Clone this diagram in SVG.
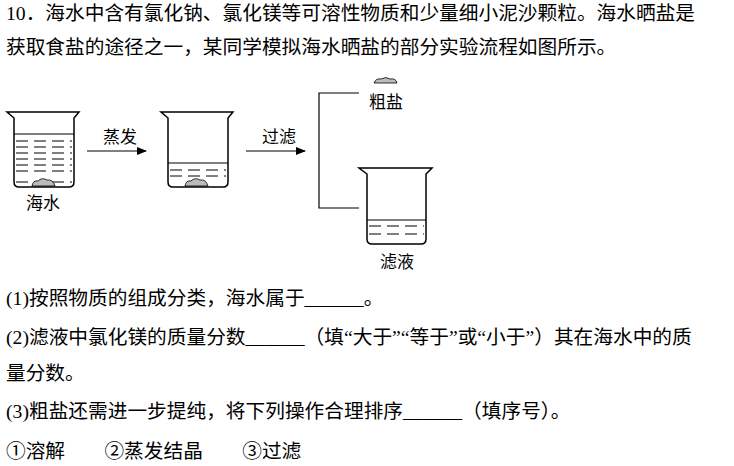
<svg xmlns="http://www.w3.org/2000/svg" width="734" height="466" viewBox="0 0 734 466">
<style>
text{font-family:"Liberation Serif","Noto Sans CJK SC",serif;font-size:19.7px;fill:#000}
.l{font-size:17px}
.b{fill:none;stroke:#000;stroke-width:1.5}
.d{stroke:#000;stroke-width:1;stroke-dasharray:12,6}
.s{fill:#bbb;stroke:#000;stroke-width:0.8}
</style>
<defs><marker id="a" markerWidth="10" markerHeight="8" refX="9" refY="4" orient="auto" markerUnits="userSpaceOnUse"><path d="M0,0L10,4L0,8z"/></marker></defs>
<rect width="734" height="466" fill="#fff"/>
<text x="6" y="20">10．海水中含有氯化钠、氯化镁等可溶性物质和少量细小泥沙颗粒。海水晒盐是</text>
<text x="6" y="54">获取食盐的途径之一，某同学模拟海水晒盐的部分实验流程如图所示。</text>
<g id="beaker1">
<path class="b" d="M7,112H79L74,118V182Q74,187 69,187H19Q14,187 14,182V118Z"/>
<line x1="14" y1="134" x2="74" y2="134" stroke="#000"/>
<g class="d"><line x1="16" y1="141" x2="72" y2="141"/><line x1="16" y1="147" x2="72" y2="147"/><line x1="16" y1="153" x2="72" y2="153"/><line x1="16" y1="159" x2="72" y2="159"/><line x1="16" y1="165" x2="72" y2="165"/><line x1="16" y1="171" x2="72" y2="171"/><line x1="16" y1="182" x2="72" y2="182"/></g>
<path class="s" d="M32,186Q33,180 38,181Q42,177 47,180Q53,179 55,186Z"/>
<text class="l" x="26" y="209">海水</text>
</g>
<g id="beaker2">
<path class="b" d="M161,112H233L228,118V182Q228,187 223,187H173Q168,187 168,182V118Z"/>
<line x1="168" y1="163" x2="228" y2="163" stroke="#000"/>
<g class="d"><line x1="170" y1="170" x2="226" y2="170"/><line x1="170" y1="176" x2="226" y2="176"/></g>
<path class="s" d="M185,186Q186,180 191,181Q195,177 200,180Q206,179 208,186Z"/>
</g>
<g id="beaker3">
<path class="b" d="M359,168H432L426,174V239Q426,244 421,244H372Q367,244 367,239V174Z"/>
<line x1="367" y1="220" x2="426" y2="220" stroke="#000"/>
<g class="d"><line x1="369" y1="226" x2="424" y2="226"/><line x1="369" y1="234" x2="424" y2="234"/></g>
<text class="l" x="380" y="268">滤液</text>
</g>
<g id="salt">
<path class="s" d="M374,83Q376,78 381,79Q386,76 390,79Q396,78 397,83Z"/>
<text class="l" x="369" y="108">粗盐</text>
</g>
<g id="connectors">
<line x1="87" y1="151" x2="146" y2="151" stroke="#000" marker-end="url(#a)"/>
<text class="l" x="103" y="143">蒸发</text>
<line x1="246" y1="151" x2="305" y2="151" stroke="#000" marker-end="url(#a)"/>
<text class="l" x="262" y="143">过滤</text>
<path d="M359,93H319V208H359" fill="none" stroke="#000" stroke-width="1.2"/>
</g>
<text x="6" y="305">(1)按照物质的组成分类，海水属于______。</text>
<text x="6" y="344">(2)滤液中氯化镁的质量分数______（填“大于”“等于”或“小于”）其在海水中的质</text>
<text x="6" y="380">量分数。</text>
<text x="6" y="418">(3)粗盐还需进一步提纯，将下列操作合理排序______（填序号）。</text>
<text x="6" y="458">①溶解　　②蒸发结晶　　③过滤</text>
</svg>
